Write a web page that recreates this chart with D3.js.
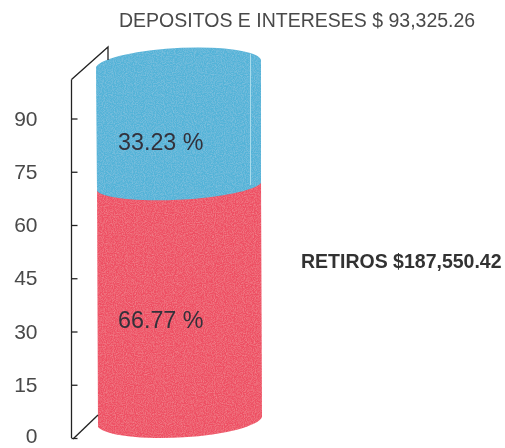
<!DOCTYPE html>
<html>
<head>
<meta charset="UTF-8">
<title>Depositos y retiros</title>
<style>
  html, body { margin: 0; padding: 0; background: #fff; }
  svg { display: block; }
  text { font-family: "Liberation Sans", Arial, sans-serif; }
</style>
</head>
<body>
<script src="https://d3js.org/d3.v7.min.js"></script>
<script>
// values
var tickValues = [0, 15, 30, 45, 60, 75, 90];
var segments = ["retiros", "depositos"];
var shares = [66.77, 33.23];
var shareLabels = ["66.77 %", "33.23 %"];
var depositTitle = "DEPOSITOS E INTERESES $ 93,325.26";
var retiroTitle = "RETIROS $187,550.42";

var width = 505, height = 448;
var cx0 = 96, cx1 = 261;   // cylinder sides
var rx = 83;

var svg = d3.select("body").append("svg")
  .attr("width", width)
  .attr("height", height);

// the original is a soft scan, so everything gets a little blur
var defs = svg.append("defs");
defs.append("filter").attr("id", "soft")
  .append("feGaussianBlur").attr("stdDeviation", 0.6);

// light speckle on the cylinder
var grain = defs.append("filter").attr("id", "grain");
grain.append("feTurbulence")
  .attr("type", "fractalNoise").attr("baseFrequency", 0.9)
  .attr("numOctaves", 2).attr("seed", 4).attr("result", "n");
grain.append("feColorMatrix").attr("in", "n")
  .attr("values", "0 0 0 0 1  0 0 0 0 1  0 0 0 0 1  0.3 0 0 0 -0.11")
  .attr("result", "speck");
grain.append("feComposite").attr("in", "speck").attr("in2", "SourceGraphic")
  .attr("operator", "in").attr("result", "clipped");
grain.append("feMerge").selectAll("feMergeNode")
  .data(["SourceGraphic", "clipped"])
  .enter().append("feMergeNode").attr("in", function(d) { return d; });

var g = svg.append("g").attr("filter", "url(#soft)");
var body = g.append("g").attr("filter", "url(#grain)");

var y = d3.scaleLinear().domain([0, 100]).range([438, 83]);
var color = d3.scaleOrdinal().domain(segments).range(["#ee4f63", "#52b3d8"]);

// red part: straight top, the blue part is drawn over it
body.append("path")
  .attr("fill", color("retiros"))
  .attr("d", "M" + (cx0 + 1) + ",180 L" + cx1 + ",180 L" + (cx1 + 1) + "," + (y(0) - 21) +
    " A" + rx + ",18,-3,0,1," + (cx0 + 2) + "," + (y(0) - 11) + " Z");

// blue part: domed top, bulging down into the red at the boundary
var edge = y(shares[0]);
body.append("path")
  .attr("fill", color("depositos"))
  .attr("d", "M" + cx0 + ",67 A" + rx + ",17,-3,0,1," + cx1 + ",60 L" + cx1 + "," + (edge - 18) +
    " A" + rx + ",15,-3,0,1," + (cx0 + 1) + "," + (edge - 10) + " Z");

// thin pale line near the right side of the blue part
g.append("line")
  .attr("x1", 250.5).attr("x2", 250.5)
  .attr("y1", 54).attr("y2", edge - 16)
  .attr("stroke", "#a9dcec").attr("stroke-width", 1);

// axis, ticks point into the chart and labels stay out on the left
var axis = d3.axisLeft(y)
  .tickValues(tickValues)
  .tickSizeInner(-6)
  .tickSizeOuter(0)
  .tickPadding(34)
  .tickFormat(d3.format("d"));

var axisG = g.append("g")
  .attr("transform", "translate(71.5,0)")
  .call(axis);
axisG.select(".domain").attr("stroke", "#222").attr("stroke-width", 1.3)
  .attr("d", "M0," + y(0) + "V" + y(101));
axisG.selectAll(".tick line").attr("stroke", "#222").attr("stroke-width", 1.3);
axisG.selectAll(".tick text")
  .attr("fill", "#4a4a4a")
  .style("font-size", "21px")
  .style("font-family", '"Liberation Sans", Arial, sans-serif');
// the bottom label has to stay inside the window
axisG.selectAll(".tick text").filter(function(d) { return d == 0; }).attr("y", -2);

// the slanted floor and wall lines of the 3d box
g.append("path")
  .attr("fill", "none")
  .attr("stroke", "#222")
  .attr("stroke-width", 1.3)
  .attr("d", "M71.5," + y(101) + " L108,47 V60");
g.append("path")
  .attr("fill", "none")
  .attr("stroke", "#222")
  .attr("stroke-width", 1.3)
  .attr("d", "M73," + (y(0) + 1) + " L98,415");

// share labels in the middle of each part
g.selectAll(".share")
  .data(shares)
  .enter().append("text")
  .attr("class", "share")
  .attr("x", 118)
  .attr("y", function(d, i) { return i == 0 ? 328 : 150; })
  .attr("fill", "#33303a")
  .style("font-size", "23.3px")
  .text(function(d, i) { return shareLabels[i]; });

g.append("text")
  .attr("x", 119)
  .attr("y", 26.5)
  .attr("fill", "#4a4a4a")
  .style("font-size", "19.5px")
  .text(depositTitle);

g.append("text")
  .attr("x", 301)
  .attr("y", 268)
  .attr("fill", "#333")
  .style("font-size", "19.5px")
  .style("font-weight", "bold")
  .text(retiroTitle);
</script>
</body>
</html>
